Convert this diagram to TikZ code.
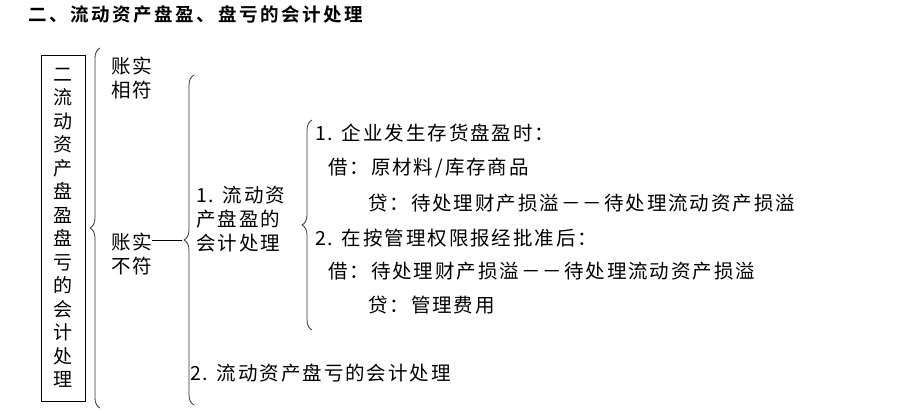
\documentclass[tikz,border=0pt]{standalone}
\usepackage{fontspec}
\newfontfamily\cjk[LetterSpace=10]{Noto Sans CJK SC}
\newfontfamily\cjkbox{Noto Sans CJK SC}
\newfontfamily\cjkb[LetterSpace=14]{Noto Sans CJK SC Bold}
\usetikzlibrary{decorations.pathreplacing}
\begin{document}
\begin{tikzpicture}[x=1pt,y=-1pt,
  txt/.style={inner sep=0pt,anchor=west,font=\cjk\fontsize{19.5}{24}\selectfont},
  brc/.style={decorate,decoration={brace,amplitude=10pt},line width=0.8pt,draw=black!80}]
\useasboundingbox (0,0) rectangle (921,413);
\node[anchor=west,inner sep=0pt,font=\cjkb\fontsize{18.5}{20}\selectfont] (title) at (28,15) {二、流动资产盘盈、盘亏的会计处理};
\node[draw,line width=0.8pt,minimum width=44pt,minimum height=346pt,inner sep=0pt,
  font=\cjkbox\fontsize{19}{23.5}\selectfont,align=center] (box) at (63,228)
  {二\\流\\动\\资\\产\\盘\\盈\\盘\\亏\\的\\会\\计\\处\\理};
\draw[brc] (100,408) -- (100,48) coordinate[pos=0.5] (b1);
\node[txt,align=left] (xf) at (111,78) {账实\\相符};
\node[txt,align=left] (bf) at (111,254) {账实\\不符};
\draw[brc] (194,405) -- (194,75);
\coordinate (b2) at (182,240);
\draw[line width=0.8pt] (bf.east |- b2) -- (b2);
\node[txt,align=left] (p1) at (196,219) {1. 流动资\\产盘盈的\\会计处理};
\draw[brc] (312,330) -- (312,120);
\node[txt] (l1) at (315,133) {1. 企业发生存货盘盈时：};
\node[txt] (l2) at (328,168) {借：原材料/库存商品};
\node[txt] (l3) at (368,203) {贷：待处理财产损溢－－待处理流动资产损溢};
\node[txt] (l4) at (315,238) {2. 在按管理权限报经批准后：};
\node[txt] (l5) at (328,271) {借：待处理财产损溢－－待处理流动资产损溢};
\node[txt] (l6) at (368,305) {贷：管理费用};
\node[txt] (p2) at (190,373) {2. 流动资产盘亏的会计处理};
\end{tikzpicture}
\end{document}
